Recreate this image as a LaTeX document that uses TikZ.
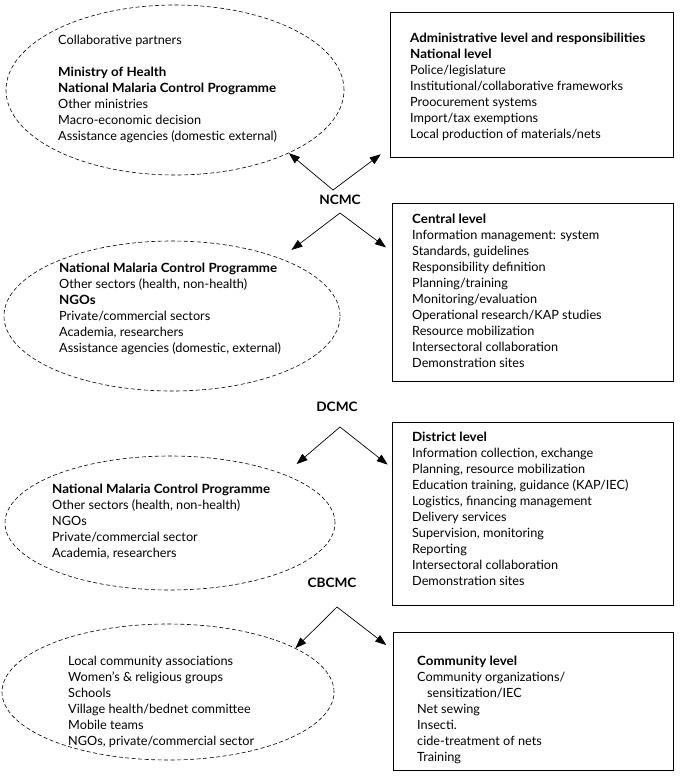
\documentclass[tikz,border=0pt]{standalone}
\usepackage{fontspec}
\setmainfont{Lato}[BoldFeatures={FakeStretch=1.05}]
\usetikzlibrary{arrows.meta,shapes.geometric}
\begin{document}
\begin{tikzpicture}[x=1pt,y=-1pt,
  ell/.style={draw, ellipse, line width=0.6pt, dash pattern=on 4pt off 2.5pt, inner sep=0pt},
  boxnode/.style={draw, rectangle, line width=0.8pt, inner sep=0pt},
  txt/.style={anchor=north west, align=left, inner sep=0pt, font=\fontsize{12.7}{16}\selectfont},
  lvl/.style={font=\fontsize{13}{15}\selectfont\bfseries, inner sep=1pt},
  arr/.style={-{Triangle[length=11pt,width=8pt]}, line width=0.7pt}]
\useasboundingbox (0,0) rectangle (681,780);

% ellipses
\node[ell, minimum width=338pt, minimum height=170pt] (e1) at (175,90) {};
\node[ell, minimum width=336pt, minimum height=150pt] (e2) at (172,316) {};
\node[ell, minimum width=330pt, minimum height=134pt] (e3) at (170,523) {};
\node[ell, minimum width=332pt, minimum height=136pt] (e4) at (168,692) {};

% boxes
\node[boxnode, minimum width=283pt, minimum height=145pt] (b1) at (531.5,84.5) {};
\node[boxnode, minimum width=281pt, minimum height=178pt] (b2) at (532.5,292) {};
\node[boxnode, minimum width=281pt, minimum height=183pt] (b3) at (532.5,513.5) {};
\node[boxnode, minimum width=280pt, minimum height=138pt] (b4) at (533,701) {};

% texts
\node[txt] (t1) at (58,34.5) {Collaborative partners\\ \mbox{}\\
\textbf{Ministry of Health}\\
\textbf{National Malaria Control Programme}\\
Other ministries\\
Macro-economic decision\\
Assistance agencies (domestic external)};

\node[txt] (tb1) at (410,32.5) {\textbf{Administrative level and responsibilities}\\
\textbf{National level}\\
Police/legislature\\
Institutional/collaborative frameworks\\
Proocurement systems\\
Import/tax exemptions\\
Local production of materials/nets};

\node[txt] (tb2) at (412,213.5) {\textbf{Central level}\\
Information management: system\\
Standards, guidelines\\
Responsibility definition\\
Planning/training\\
Monitoring/evaluation\\
Operational research/KAP studies\\
Resource mobilization\\
Intersectoral collaboration\\
Demonstration sites};

\node[txt] (t2) at (59,262.5) {\textbf{National Malaria Control Programme}\\
Other sectors (health, non-health)\\
\textbf{NGOs}\\
Private/commercial sectors\\
Academia, researchers\\
Assistance agencies (domestic, external)};

\node[txt] (tb3) at (412,431.5) {\textbf{District level}\\
Information collection, exchange\\
Planning, resource mobilization\\
Education training, guidance (KAP/IEC)\\
Logistics, financing management\\
Delivery services\\
Supervision, monitoring\\
Reporting\\
Intersectoral collaboration\\
Demonstration sites};

\node[txt] (t3) at (52,483.5) {\textbf{National Malaria Control Programme}\\
Other sectors (health, non-health)\\
NGOs\\
Private/commercial sector\\
Academia, researchers};

\node[txt] (tb4) at (417,655.5) {\textbf{Community level}\\
Community organizations/\\
\hspace*{10pt}sensitization/IEC\\
Net sewing\\
Insecti.\\
cide-treatment of nets\\
Training};

\node[txt] (t4) at (68,655.5) {Local community associations\\
Women's \& religious groups\\
Schools\\
Village health/bednet committee\\
Mobile teams\\
NGOs, private/commercial sector};

% level labels
\node[lvl] (ncmc) at (340,200) {NCMC};
\node[lvl] (dcmc) at (337,407) {DCMC};
\node[lvl] (cbcmc) at (332,583) {CBCMC};

% arrow origins
\coordinate (nU) at (333,190);
\coordinate (nD) at (340,213);
\coordinate (dD) at (340,427);
\coordinate (cD) at (337,607);

% arrows
\draw[arr] (nU) -- (e1.-29);
\draw[arr, shorten >=11pt] (nU) -- (b1.204);
\draw[arr, shorten >=14pt] (nD) -- (e2.28);
\draw[arr, shorten >=7pt] (nD) -- (b2.164);
\draw[arr, shorten >=16pt] (dD) -- (e3.23);
\draw[arr, shorten >=5pt] (dD) -- (b3.162);
\draw[arr] (cD) -- (e4.19);
\draw[arr, shorten >=8pt] (cD) -- (b4.160);
\end{tikzpicture}
\end{document}
